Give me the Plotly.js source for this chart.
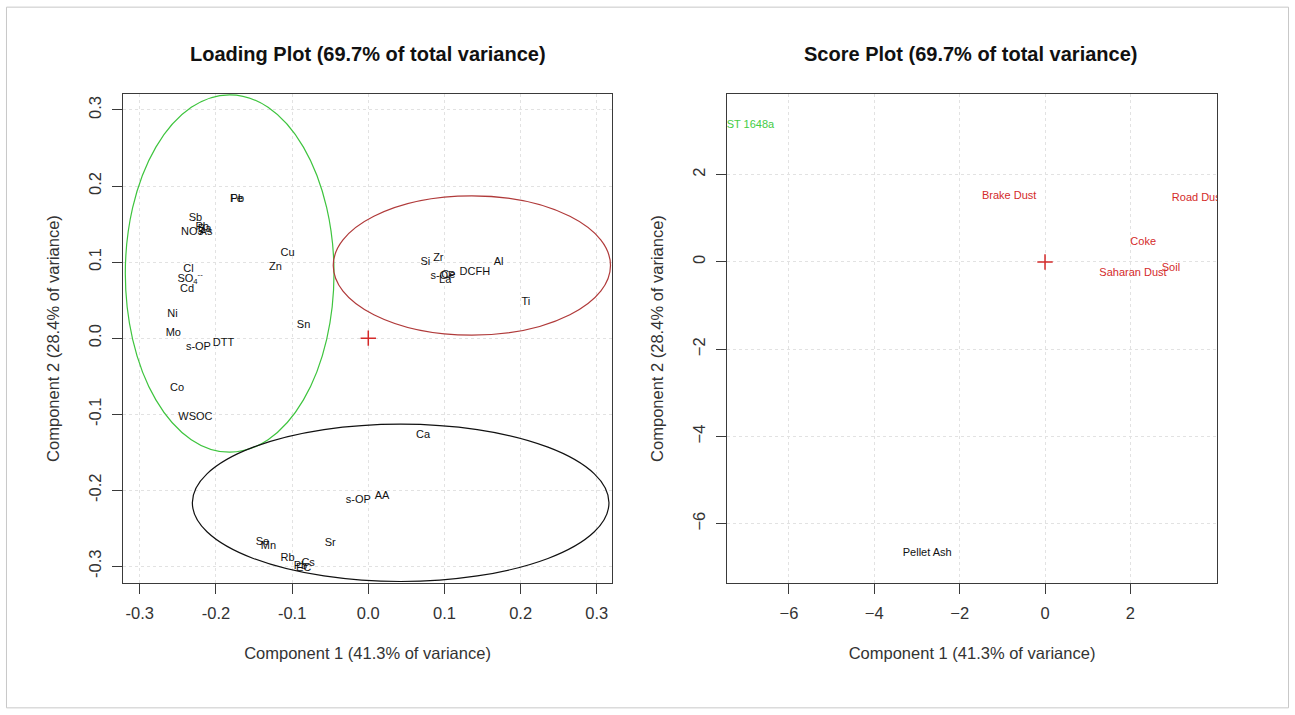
<!DOCTYPE html>
<html><head><meta charset="utf-8">
<script src="https://cdn.plot.ly/plotly-3.0.1.min.js"></script>
<style>html,body{margin:0;padding:0;background:#fff}#c{width:1295px;height:715px}</style>
</head><body><div id="c"></div>
<script>
// Loading plot labels
const loadLabels = ["Fe","Pb","Sb","Pb","Ba","NO3","As","Cu","Zn","Cl","SO<sub>4</sub><sup>--</sup>","Cd","Ni","Mo","s-OP","DTT","Sn","Co","WSOC",
  "Si","Zr","s-OP","Ce","La","DCFH","Al","Ti",
  "Ca","s-OP","AA","Sr","Se","Mn","Rb","Cs","Pb","EC"];
const loadX = [-0.173,-0.172,-0.227,-0.218,-0.215,-0.231,-0.213,-0.106,-0.122,-0.236,-0.234,-0.238,-0.257,-0.256,-0.223,-0.190,-0.085,-0.251,-0.227,
  0.075,0.092,0.098,0.105,0.101,0.140,0.171,0.207,
  0.072,-0.013,0.018,-0.050,-0.139,-0.131,-0.106,-0.079,-0.089,-0.085];
const loadY = [0.182,0.183,0.158,0.146,0.143,0.139,0.139,0.112,0.093,0.091,0.078,0.064,0.032,0.007,-0.012,-0.007,0.017,-0.066,-0.104,
  0.100,0.105,0.082,0.083,0.076,0.086,0.100,0.047,
  -0.128,-0.213,-0.208,-0.270,-0.268,-0.274,-0.289,-0.296,-0.300,-0.303];

// Score plot labels
const scoreLabels = ["NIST 1648a","Brake Dust","Road Dust","Coke","Saharan Dust","Soil","Pellet Ash"];
const scoreX = [-7.03,-0.84,3.58,2.30,2.06,2.95,-2.76];
const scoreY = [3.14,1.51,1.47,0.46,-0.25,-0.14,-6.67];
const scoreColors = ["#44cc44","#d42a2a","#d42a2a","#d42a2a","#d42a2a","#d42a2a","#111111"];

// Cluster ellipses (bounding boxes in loading-plot units)
const ellX0 = [-0.319,-0.046,-0.231];
const ellX1 = [-0.045,0.318,0.316];
const ellY0 = [-0.150,0.004,-0.320];
const ellY1 = [0.320,0.187,-0.113];
const ellColors = ["#3ec43e","#b03a3a","#111111"];

const loadTicks = [-0.3,-0.2,-0.1,0.0,0.1,0.2,0.3];
const loadTickText = ["-0.3","-0.2","-0.1","0.0","0.1","0.2","0.3"];
const scoreXTicks = [-6,-4,-2,0,2];
const scoreYTicks = [-6,-4,-2,0,2];

const FONT = "Liberation Sans, Arial, sans-serif";

const traces = [
  {x: loadX, y: loadY, text: loadLabels, mode: "text", type: "scatter", xaxis: "x", yaxis: "y",
   textfont: {family: FONT, size: 11, color: "#111"}, textposition: "middle center", hoverinfo: "text", cliponaxis: true},
  {x: [0], y: [0], mode: "markers", type: "scatter", xaxis: "x", yaxis: "y",
   marker: {symbol: "cross-thin-open", size: 11, color: "#d42a2a", line: {width: 1.5, color: "#d42a2a"}}, hoverinfo: "skip"},
  {x: scoreX, y: scoreY, text: scoreLabels, mode: "text", type: "scatter", xaxis: "x2", yaxis: "y2",
   textfont: {family: FONT, size: 11, color: scoreColors}, textposition: "middle center", hoverinfo: "text", cliponaxis: true},
  {x: [0], y: [0], mode: "markers", type: "scatter", xaxis: "x2", yaxis: "y2",
   marker: {symbol: "cross-thin-open", size: 11, color: "#d42a2a", line: {width: 1.5, color: "#d42a2a"}}, hoverinfo: "skip"}
];

const shapes = ellX0.map((v, i) => ({type: "circle", xref: "x", yref: "y", x0: v, x1: ellX1[i], y0: ellY0[i], y1: ellY1[i],
  line: {color: ellColors[i], width: 1.2}, layer: "above"}));
shapes.push({type: "rect", xref: "paper", yref: "paper", x0: 0.005, x1: 0.995, y0: 0.01, y1: 0.99, line: {color: "#c8c8c8", width: 1}});

const TF = {family: FONT, size: 16.5, color: "#333"};
const axisCommon = {
  showline: true, mirror: true, linecolor: "#3a3a3a", linewidth: 1.3,
  ticks: "outside", ticklen: 10, tickcolor: "#3a3a3a", tickwidth: 1,
  showgrid: true, gridcolor: "#e2e2e2", griddash: "dot", gridwidth: 1,
  zeroline: false, tickfont: {family: FONT, size: 16.5, color: "#333"}
};

const layout = {
  width: 1295, height: 715, margin: {l: 0, r: 0, t: 0, b: 0},
  paper_bgcolor: "#fff", plot_bgcolor: "#fff", showlegend: false,
  xaxis: Object.assign({}, axisCommon, {domain: [0.0950, 0.4726], range: [-0.322, 0.320], tickvals: loadTicks, ticktext: loadTickText,
    anchor: "y", ticklabelstandoff: 5,
    title: {text: "Component 1 (41.3% of variance)", standoff: 26, font: TF}}),
  yaxis: Object.assign({}, axisCommon, {domain: [0.1846, 0.8685], range: [-0.322, 0.321], tickvals: loadTicks, ticktext: loadTickText,
    anchor: "x", tickangle: -90, ticklabelstandoff: 4,
    title: {text: "Component 2 (28.4% of variance)", standoff: 22, font: TF}}),
  xaxis2: Object.assign({}, axisCommon, {domain: [0.5614, 0.9398], range: [-7.45, 4.03], tickvals: scoreXTicks,
    anchor: "y2", ticklabelstandoff: 5,
    title: {text: "Component 1 (41.3% of variance)", standoff: 26, font: TF}}),
  yaxis2: Object.assign({}, axisCommon, {domain: [0.1846, 0.8685], range: [-7.36, 3.85], tickvals: scoreYTicks,
    anchor: "x2", tickangle: -90, ticklabelstandoff: 4,
    title: {text: "Component 2 (28.4% of variance)", standoff: 22, font: TF}}),
  annotations: [
    {text: "<b>Loading Plot (69.7% of total variance)</b>", xref: "paper", yref: "paper", x: 0.2838, y: 1 - 54/715,
     showarrow: false, xanchor: "center", yanchor: "middle", font: {family: FONT, size: 20, color: "#111"}},
    {text: "<b>Score Plot (69.7% of total variance)</b>", xref: "paper", yref: "paper", x: 0.7498, y: 1 - 54/715,
     showarrow: false, xanchor: "center", yanchor: "middle", font: {family: FONT, size: 20, color: "#111"}}
  ],
  shapes: shapes
};

Plotly.newPlot("c", traces, layout, {displayModeBar: false, staticPlot: true});
</script></body></html>
